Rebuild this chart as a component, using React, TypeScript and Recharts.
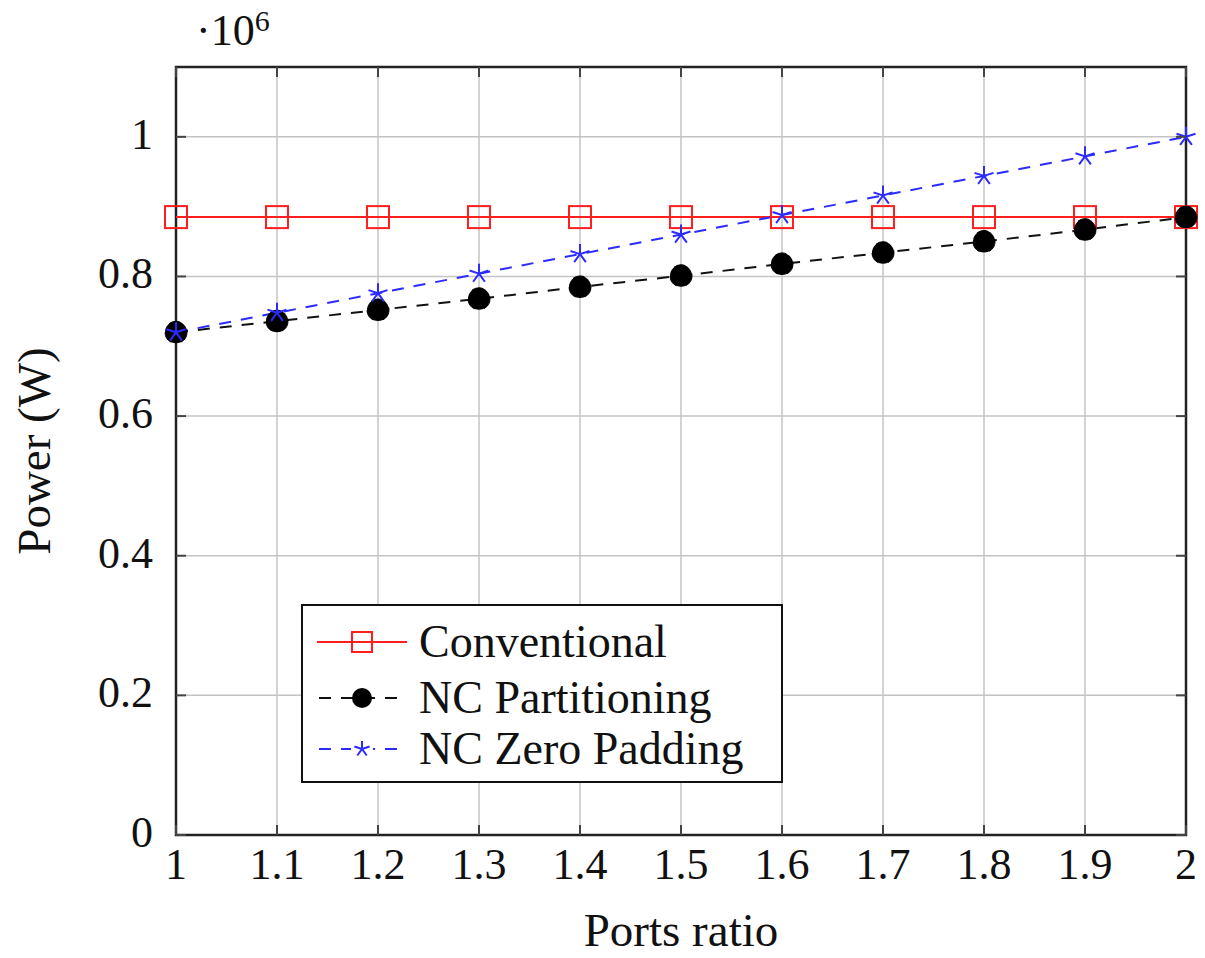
import { LineChart, Line, XAxis, YAxis, CartesianGrid, ReferenceArea, Legend, Label } from 'recharts'

const portsRatio = [1, 1.1, 1.2, 1.3, 1.4, 1.5, 1.6, 1.7, 1.8, 1.9, 2]
const conventional = [885000, 885000, 885000, 885000, 885000, 885000, 885000, 885000, 885000, 885000, 885000]
const ncPartitioning = [720000, 736000, 752000, 768000, 785000, 801000, 818000, 834000, 850000, 867000, 885000]
const ncZeroPadding = [720000, 748000, 776000, 804000, 832000, 860000, 888000, 916000, 944000, 972000, 1000000]
const yTicks = [0, 200000, 400000, 600000, 800000, 1000000]
const seriesNames = ['Conventional', 'NC Partitioning', 'NC Zero Padding']

const data = portsRatio.map((r, i) => ({
  ratio: r,
  conventional: conventional[i],
  partitioning: ncPartitioning[i],
  zeroPadding: ncZeroPadding[i],
}))

const W = 1205
const H = 958
const LEFT = 176
const TOP = 67
const RIGHT = 1186
const BOTTOM = 835
const Y_AXIS_W = 60
const X_AXIS_H = 60
const FONT = '"Liberation Serif", "Times New Roman", serif'
const RED = '#ff1f1f'
const BLUE = '#2b2bff'
const TICK_COLOR = '#444'

function XTick({ x, payload }: any) {
  return (
    <g>
      <line x1={x} x2={x} y1={BOTTOM} y2={BOTTOM - 10} stroke={TICK_COLOR} strokeWidth={2} />
      <line x1={x} x2={x} y1={TOP} y2={TOP + 10} stroke={TICK_COLOR} strokeWidth={2} />
      <text x={x} y={BOTTOM + 44} textAnchor="middle" fontSize={44} fill="#111" fontFamily={FONT}>
        {String(payload.value)}
      </text>
    </g>
  )
}

function YTick({ y, payload }: any) {
  const label = parseFloat((payload.value / 1e6).toFixed(1))
  return (
    <g>
      <line x1={LEFT} x2={LEFT + 10} y1={y} y2={y} stroke={TICK_COLOR} strokeWidth={2} />
      <line x1={RIGHT} x2={RIGHT - 10} y1={y} y2={y} stroke={TICK_COLOR} strokeWidth={2} />
      <text x={LEFT - 23} y={y + 12} textAnchor="end" fontSize={44} fill="#111" fontFamily={FONT}>
        {String(label)}
      </text>
    </g>
  )
}

function SquareDot({ cx, cy, index }: any) {
  return <rect key={index} x={cx - 11} y={cy - 11} width={22} height={22} fill="none" stroke={RED} strokeWidth={2} />
}

function starPath(cx: number, cy: number, r: number) {
  let d = ''
  for (let k = 0; k < 5; k++) {
    const a = (-90 + k * 72) * Math.PI / 180
    d += `M${cx},${cy}L${cx + r * Math.cos(a)},${cy + r * Math.sin(a)}`
  }
  return d
}

function StarDot({ cx, cy, index }: any) {
  return <path key={index} d={starPath(cx, cy, 10)} stroke={BLUE} strokeWidth={2} fill="none" />
}

function LegendBox() {
  const rows = [
    { name: seriesNames[0], cy: 36, kind: 'square' },
    { name: seriesNames[1], cy: 92, kind: 'circle' },
    { name: seriesNames[2], cy: 143, kind: 'star' },
  ]
  return (
    <div style={{ position: 'relative', width: 482, height: 179, border: '2px solid #111', boxSizing: 'border-box', background: '#fff', fontFamily: FONT }}>
      {rows.map(row => (
        <div key={row.name} style={{ position: 'absolute', left: 0, top: row.cy - 27, height: 54, width: 478 }}>
          <svg width={100} height={54} style={{ position: 'absolute', left: 12, top: 0 }}>
            {row.kind === 'square' && (
              <g>
                <line x1={2} x2={92} y1={27} y2={27} stroke={RED} strokeWidth={2} />
                <rect x={37} y={17} width={20} height={20} fill="none" stroke={RED} strokeWidth={2} />
              </g>
            )}
            {row.kind === 'circle' && (
              <g>
                <line x1={2} x2={92} y1={27} y2={27} stroke="#111" strokeWidth={2} strokeDasharray="12 10" strokeDashoffset={-2} />
                <circle cx={47} cy={27} r={10} fill="#000" />
              </g>
            )}
            {row.kind === 'star' && (
              <g>
                <line x1={2} x2={92} y1={27} y2={27} stroke={BLUE} strokeWidth={2} strokeDasharray="12 10" strokeDashoffset={-2} />
                <rect x={36} y={18} width={22} height={18} fill="#fff" />
                <path d={starPath(47, 27, 8)} stroke={BLUE} strokeWidth={2} fill="none" />
              </g>
            )}
          </svg>
          <span style={{ position: 'absolute', left: 116, top: 0, lineHeight: '54px', fontSize: 46, color: '#111', whiteSpace: 'nowrap' }}>
            {row.name}
          </span>
        </div>
      ))}
    </div>
  )
}

export default function App() {
  return (
    <div style={{ position: 'absolute', left: 0, top: 0, width: W, height: H, background: '#fff', fontFamily: FONT }}>
      <LineChart
        width={W}
        height={H}
        data={data}
        margin={{ top: TOP, right: W - RIGHT, bottom: H - BOTTOM - X_AXIS_H, left: LEFT - Y_AXIS_W }}
      >
        <CartesianGrid stroke="#c4c4c4" strokeWidth={1.5} />
        <XAxis
          dataKey="ratio"
          type="number"
          domain={[1, 2]}
          ticks={portsRatio}
          height={X_AXIS_H}
          tickSize={0}
          tickLine={false}
          axisLine={false}
          tick={<XTick />}
          interval={0}
        >
          <Label
            content={() => (
              <text x={(LEFT + RIGHT) / 2} y={946} textAnchor="middle" fontSize={47} fill="#111" fontFamily={FONT}>
                Ports ratio
              </text>
            )}
          />
        </XAxis>
        <YAxis
          type="number"
          domain={[0, 1100000]}
          ticks={yTicks}
          width={Y_AXIS_W}
          tickSize={0}
          tickLine={false}
          axisLine={false}
          tick={<YTick />}
          interval={0}
        >
          <Label
            content={() => (
              <g>
                <text
                  x={0}
                  y={0}
                  transform={`translate(50, ${(TOP + BOTTOM) / 2}) rotate(-90)`}
                  textAnchor="middle"
                  fontSize={47}
                  fill="#111"
                  fontFamily={FONT}
                >
                  Power (W)
                </text>
                <text x={196} y={45} fontSize={44} fill="#111" fontFamily={FONT}>
                  ·10<tspan dy={-14} fontSize={30}>6</tspan>
                </text>
              </g>
            )}
          />
        </YAxis>
        <ReferenceArea x1={1} x2={2} y1={0} y2={1100000} fill="none" stroke="#222" strokeWidth={2.5} />
        <Line
          dataKey="conventional"
          name={seriesNames[0]}
          stroke={RED}
          strokeWidth={2}
          dot={<SquareDot />}
          isAnimationActive={false}
        />
        <Line
          dataKey="partitioning"
          name={seriesNames[1]}
          stroke="#111"
          strokeWidth={2}
          strokeDasharray="12 10"
          dot={{ r: 11, fill: '#000', stroke: '#000', strokeWidth: 1 }}
          isAnimationActive={false}
        />
        <Line
          dataKey="zeroPadding"
          name={seriesNames[2]}
          stroke={BLUE}
          strokeWidth={2}
          strokeDasharray="12 10"
          dot={<StarDot />}
          isAnimationActive={false}
        />
        <Legend
          layout="horizontal"
          verticalAlign="middle"
          align="center"
          content={<LegendBox />}
          wrapperStyle={{ left: 301, top: 604, width: 482, height: 179 }}
        />
      </LineChart>
    </div>
  )
}
